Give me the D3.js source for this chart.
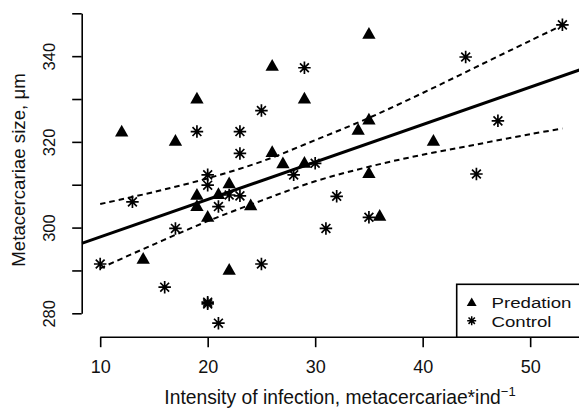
<!DOCTYPE html>
<html>
<head>
<meta charset="utf-8">
<script src="https://cdn.jsdelivr.net/npm/d3@7"></script>
<style>
  html, body { margin: 0; padding: 0; background: #fff; }
  svg { display: block; font-family: "Liberation Sans", Arial, Helvetica, sans-serif; }
</style>
</head>
<body>
<svg id="chart" width="579" height="412"></svg>
<script>
// ---- data ----
const predation = [
  [12, 322.4], [14, 292.7], [17, 320.2], [19, 330.1], [19, 307.6], [19, 305.0],
  [20, 302.5], [21, 307.8], [22, 310.3], [22, 290.1], [24, 305.2], [26, 337.7],
  [26, 317.6], [27, 315.0], [29, 330.1], [29, 315.1], [34, 322.8], [35, 345.2],
  [35, 325.2], [35, 312.7], [36, 302.7], [41, 320.2]
];
const control = [
  [10, 291.5], [13, 306.0], [16, 286.1], [17, 299.8], [19, 322.4], [20, 312.3],
  [20, 309.9], [20, 282.6], [20, 282.2], [21, 304.9], [21, 277.7], [22, 307.6],
  [23, 322.4], [23, 317.3], [23, 307.4], [25, 327.3], [25, 291.5], [28, 312.3],
  [29, 337.3], [30, 315.0], [31, 299.8], [32, 307.3], [35, 302.4], [44, 339.8],
  [45, 312.5], [47, 324.9], [53, 347.3]
];
const fitLine = [[8.28, 296.3], [54.72, 336.9]];
const upperBand = [
  [10, 305.5], [15, 308.3], [20, 311.5], [25, 315.4], [30, 320.4],
  [35, 325.6], [40, 331.4], [45, 337.5], [50, 343.6], [53, 347.2]
];
const lowerBand = [
  [10, 290.5], [15, 296.1], [20, 301.5], [25, 306.3], [30, 310.8],
  [35, 314.2], [40, 317.0], [45, 319.4], [50, 321.8], [53, 323.1]
];
const xTicks = [10, 20, 30, 40, 50];
const yTicks = [280, 290, 300, 310, 320, 330, 340, 350];
const yTickLabels = { 280: "280", 300: "300", 320: "320", 340: "340" };
const legendItems = ["Predation", "Control"];

// ---- layout ----
const svg = d3.select("#chart");
const x = d3.scaleLinear().domain([8.28, 54.72]).range([81.7, 580.9]);
const y = d3.scaleLinear().domain([280, 350]).range([313.3, 13.3]);
const xAxisY = 337.2, yAxisX = 81.7;

const plot = svg.append("g");
plot.append("defs").append("clipPath").attr("id", "clip")
  .append("rect").attr("x", 81.7).attr("y", 10).attr("width", 500).attr("height", 327);

// y axis
const ya = svg.append("g").attr("transform", `translate(${yAxisX},0)`)
  .call(d3.axisLeft(y).tickValues(yTicks).tickSize(9.5).tickSizeOuter(0)
    .tickFormat(d => yTickLabels[d] || ""));
ya.select(".domain").attr("stroke", "#000").attr("stroke-width", 1.6);
ya.selectAll(".tick line").attr("stroke", "#000").attr("stroke-width", 1.6);
ya.selectAll(".tick text")
  .attr("font-size", 16.5).attr("fill", "#111")
  .attr("x", 0).attr("y", 0).attr("dx", 0).attr("dy", 0)
  .attr("text-anchor", "middle")
  .attr("transform", "translate(-26.5,0) rotate(-90)");

// x axis
const xa = svg.append("g").attr("transform", `translate(0,${xAxisY})`)
  .call(d3.axisBottom(x).tickValues(xTicks).tickSize(10).tickSizeOuter(0));
xa.select(".domain").attr("stroke", "#000").attr("stroke-width", 1.6)
  .attr("d", `M${x(10)},0H${x(50)}`);
xa.selectAll(".tick line").attr("stroke", "#000").attr("stroke-width", 1.6);
xa.selectAll(".tick text").attr("font-size", 18).attr("fill", "#111")
  .attr("y", 0).attr("dy", 0).attr("transform", "translate(0,35.8)");

// axis titles
svg.append("text").attr("x", 340).attr("y", 403.5).attr("text-anchor", "middle")
  .attr("font-size", 19.3).attr("fill", "#111")
  .html('Intensity of infection, metacercariae*ind<tspan font-size="13" dy="-8">\u22121</tspan>');
svg.append("text").attr("transform", "translate(25,170) rotate(-90)")
  .attr("text-anchor", "middle").attr("font-size", 18.7).attr("fill", "#111")
  .text("Metacercariae size, \u03bcm");

// regression line and bands
const line = d3.line().x(d => x(d[0])).y(d => y(d[1]));
const curve = d3.line().x(d => x(d[0])).y(d => y(d[1])).curve(d3.curveCatmullRom);
plot.append("path").attr("d", line(fitLine)).attr("clip-path", "url(#clip)")
  .attr("stroke", "#000").attr("stroke-width", 3).attr("fill", "none");
[upperBand, lowerBand].forEach(b => {
  plot.append("path").attr("d", curve(b))
    .attr("stroke", "#000").attr("stroke-width", 2).attr("fill", "none")
    .attr("stroke-dasharray", "5.5,4");
});

// markers
const triPath = s => `M0,${-s * 0.6}L${s * 0.58},${s * 0.42}L${-s * 0.58},${s * 0.42}Z`;
function star(g, s, w) {
  const r = s / 2, d = r * 0.7071;
  g.append("path")
    .attr("d", `M${-r},0H${r}M0,${-r}V${r}M${-d},${-d}L${d},${d}M${-d},${d}L${d},${-d}`)
    .attr("stroke", "#000").attr("stroke-width", w).attr("fill", "none");
}
plot.selectAll(".pred").data(predation).join("path").attr("class", "pred")
  .attr("transform", d => `translate(${x(d[0])},${y(d[1])})`)
  .attr("d", triPath(11.5)).attr("fill", "#000");
plot.selectAll(".ctrl").data(control).join("g").attr("class", "ctrl")
  .attr("transform", d => `translate(${x(d[0])},${y(d[1])})`)
  .each(function () { star(d3.select(this), 12.5, 1.7); });

// legend
const lg = svg.append("g");
lg.append("rect").attr("x", 456.7).attr("y", 284.3).attr("width", 140).attr("height", 52.9)
  .attr("fill", "#fff").attr("stroke", "#000").attr("stroke-width", 1.6);
const legendWidths = [80, 60];
legendItems.forEach((name, i) => {
  const cy = 302.5 + i * 18.2;
  const sg = lg.append("g").attr("transform", `translate(471.7,${cy})`);
  if (i === 0) sg.append("path").attr("d", triPath(8.5)).attr("fill", "#000");
  else star(sg, 9, 1.5);
  lg.append("text").attr("x", 491.5).attr("y", cy + 5.8).attr("font-size", 15.5).attr("fill", "#111")
    .attr("textLength", legendWidths[i]).attr("lengthAdjust", "spacingAndGlyphs")
    .text(name);
});
</script>
</body>
</html>
